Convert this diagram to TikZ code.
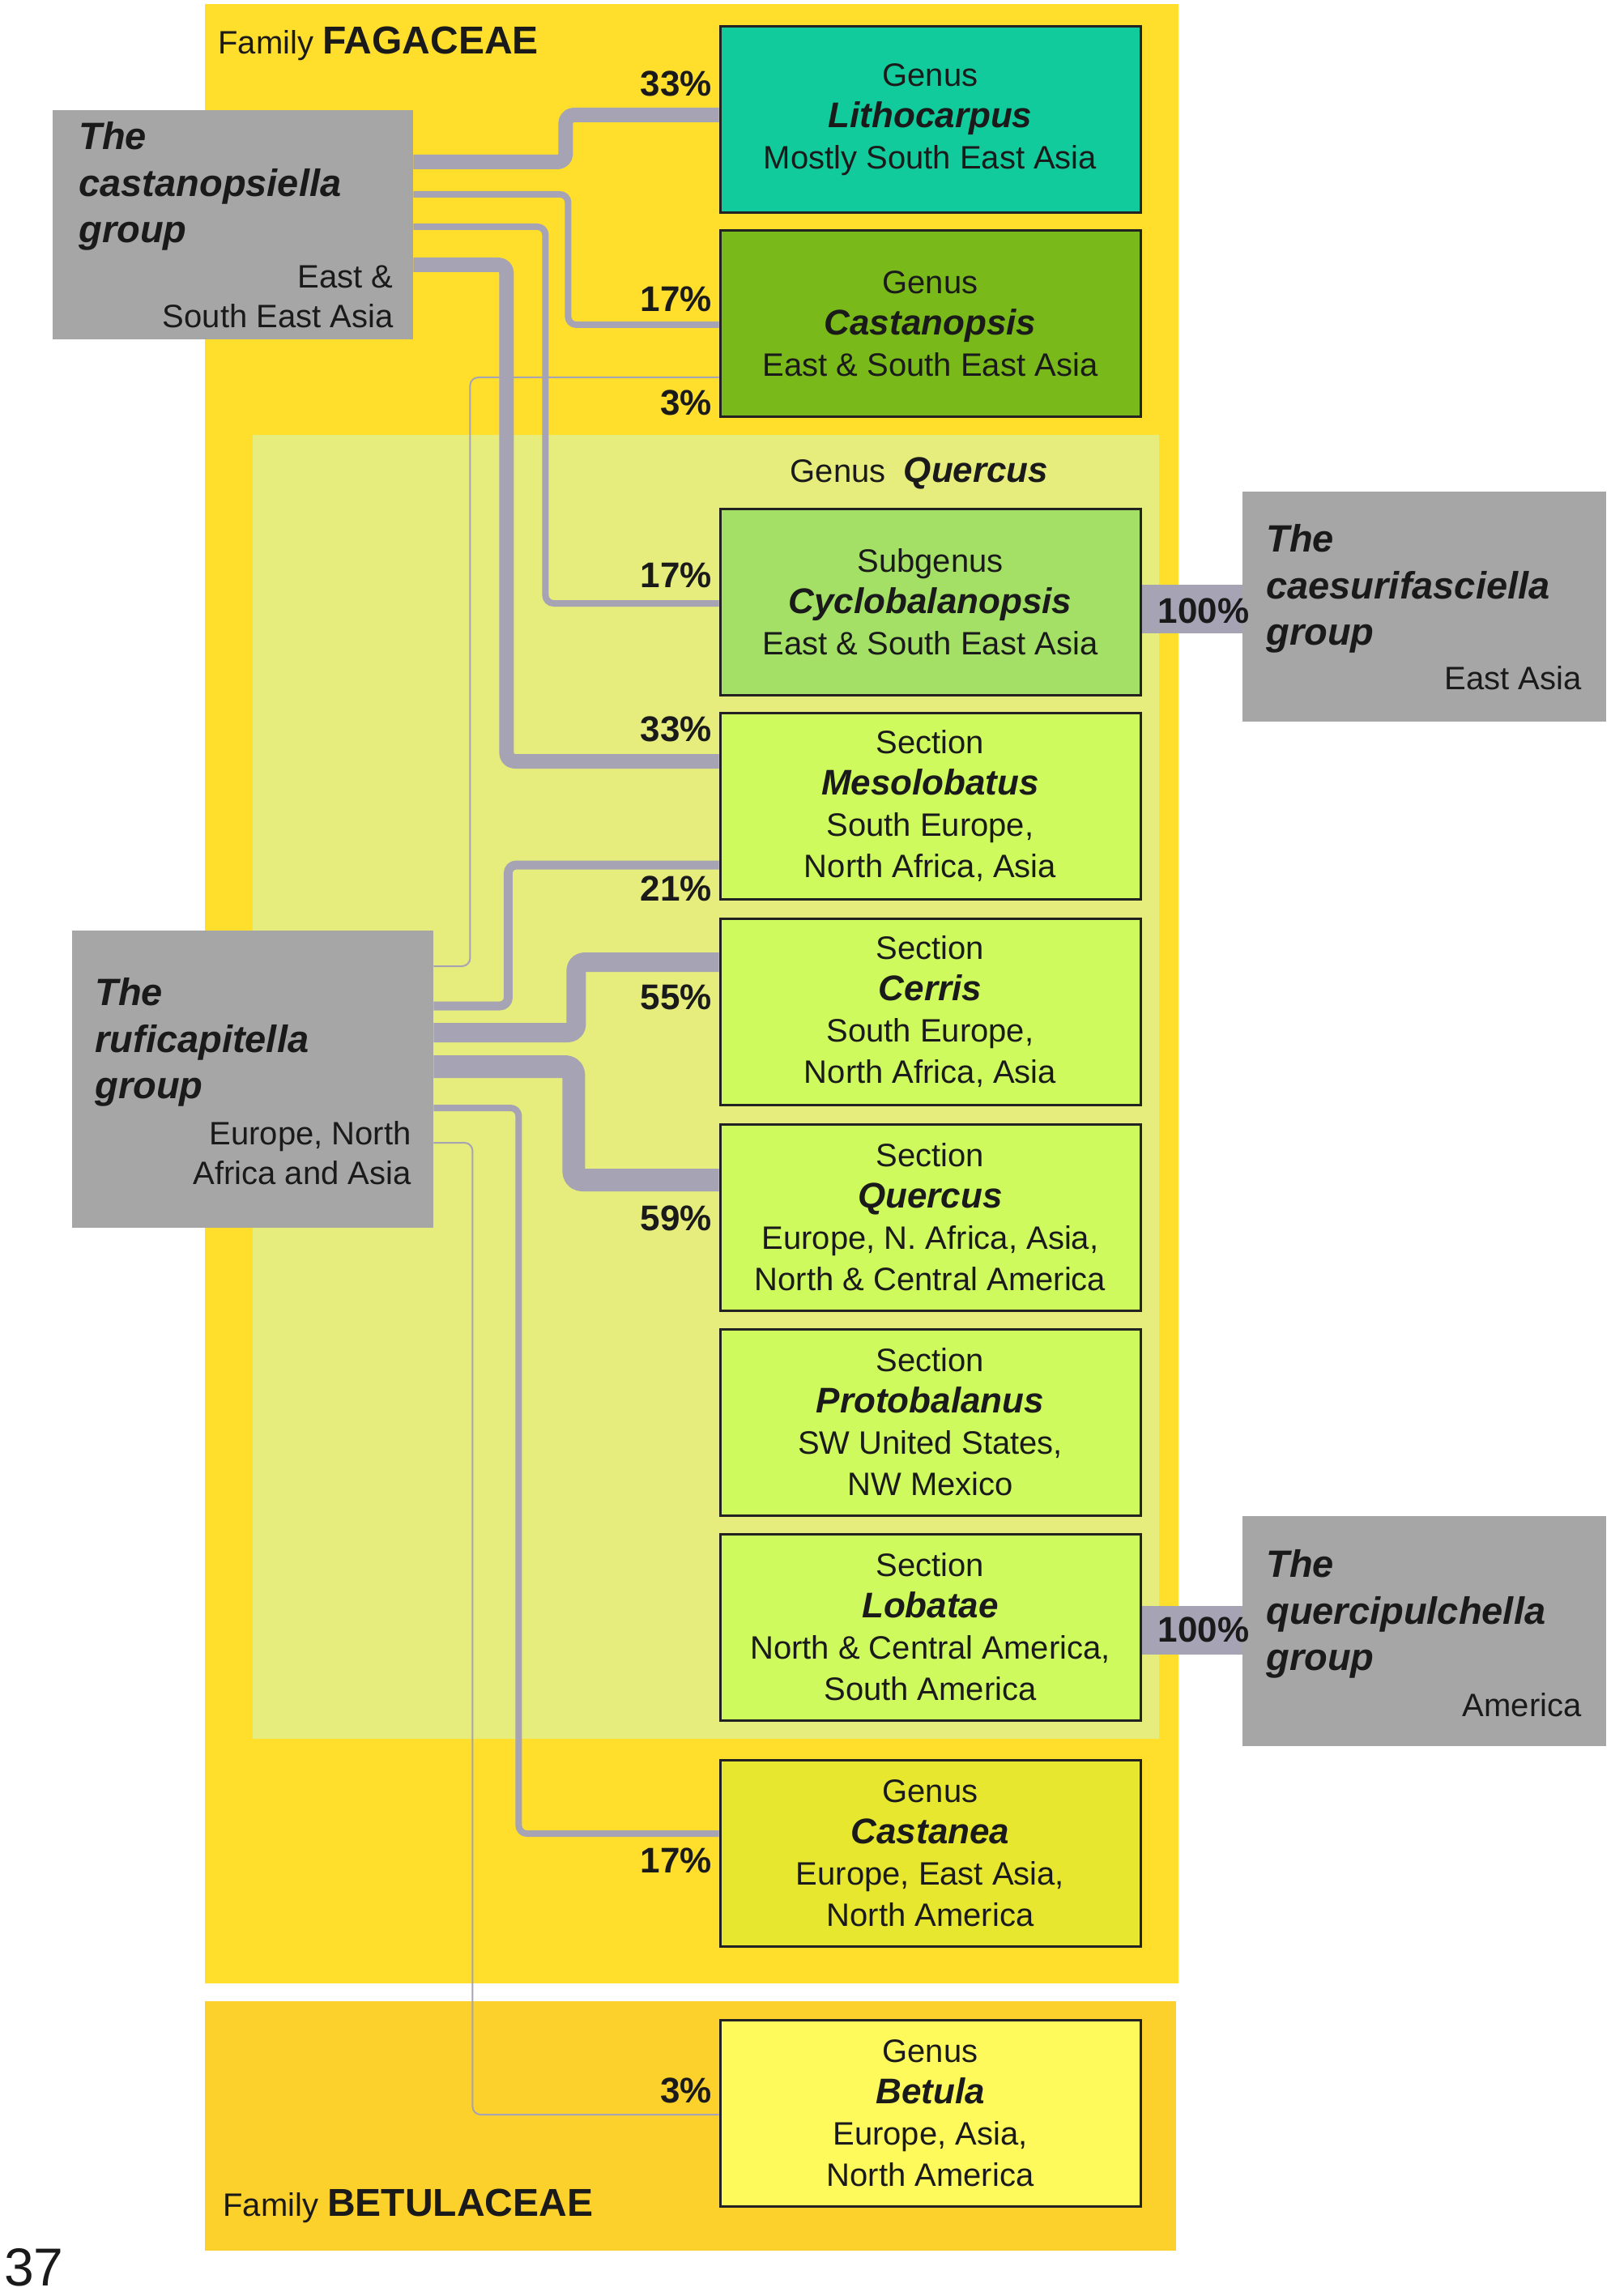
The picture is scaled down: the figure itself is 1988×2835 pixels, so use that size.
\documentclass[tikz,border=0pt]{standalone}
\usepackage{fontspec}
\setmainfont{Liberation Sans}
\usetikzlibrary{calc}
\definecolor{fagbg}{HTML}{FFDF2B}
\definecolor{betbg}{HTML}{FDD12B}
\definecolor{querbg}{HTML}{E6ED7C}
\definecolor{litc}{HTML}{12CB9C}
\definecolor{castpc}{HTML}{7AB91A}
\definecolor{cycloc}{HTML}{A3E065}
\definecolor{sectc}{HTML}{CEFA5E}
\definecolor{castac}{HTML}{E6E72E}
\definecolor{betc}{HTML}{FFFA5C}
\definecolor{grayc}{HTML}{A6A6A6}
\definecolor{linec}{HTML}{A5A3B4}
\definecolor{textc}{HTML}{1A1A1A}
\definecolor{boxline}{HTML}{222222}
\newcommand\nm[1]{{\fontsize{22}{25.5}\selectfont\bfseries\itshape #1}}
\tikzset{
  conn/.style={draw=linec, rounded corners=5pt, line join=round},
  wA/.style={conn, line width=1pt},
  wB/.style={conn, line width=4pt},
  wC/.style={conn, line width=5.5pt},
  wD/.style={conn, line width=9pt},
  wE/.style={conn, line width=12pt},
  wF/.style={conn, line width=14pt},
  wG/.style={draw=linec, line width=30pt},
  taxbox/.style={draw=boxline, line width=1.5pt, minimum width=259.5pt, minimum height=115pt, inner sep=0pt, align=center, font=\fontsize{20}{25.5}\selectfont, text=textc},
  grp/.style={fill=grayc, inner sep=0pt},
  gtitle/.style={align=left, inner sep=0pt, font=\fontsize{23.5}{28.75}\selectfont\bfseries\itshape, text=textc},
  gregion/.style={align=right, inner sep=0pt, font=\fontsize{20}{24.5}\selectfont, text=textc},
  pct/.style={font=\fontsize{22}{26}\selectfont\bfseries, inner sep=0pt, text=textc},
}
\begin{document}
\begin{tikzpicture}[x=0.5pt,y=-0.5pt]
\useasboundingbox (0,0) rectangle (1988,2835);
% backgrounds
\fill[fagbg] (253,5) rectangle (1455,2449);
\fill[betbg] (253,2471) rectangle (1452,2779);
\fill[querbg] (312,537) rectangle (1431,2147);

% gray groups
\node[grp, minimum width=222.5pt, minimum height=141.5pt] (castgrp) at (287.5,277.5) {};
\node[grp, minimum width=223pt, minimum height=183.5pt] (rufgrp) at (312,1332.5) {};
\node[grp, minimum width=224.5pt, minimum height=142pt] (caesgrp) at (1758.5,749) {};
\node[grp, minimum width=224.5pt, minimum height=142pt] (quergrp) at (1758.5,2014) {};

\path (1148.5,147.5) coordinate (lithoC) (1148.5,399.5) coordinate (castpC)
      (1148.5,743.5) coordinate (cycloC) (1148.5,995.5) coordinate (mesoC)
      (1148.5,1249) coordinate (cerrisC) (1148.5,1503) coordinate (qsectC)
      (1148.5,1756) coordinate (protoC) (1148.5,2009) coordinate (lobatC)
      (1148.5,2288) coordinate (castaC) (1148.5,2609.5) coordinate (betC);

% placeholders giving the box anchors (boxes are drawn later, on top)
\node[taxbox, draw=none] (litho) at (lithoC) {};
\node[taxbox, draw=none] (castp) at (castpC) {};
\node[taxbox, draw=none] (cyclo) at (cycloC) {};
\node[taxbox, draw=none] (meso) at (mesoC) {};
\node[taxbox, draw=none] (cerris) at (cerrisC) {};
\node[taxbox, draw=none] (qsect) at (qsectC) {};
\node[taxbox, draw=none] (proto) at (protoC) {};
\node[taxbox, draw=none] (lobat) at (lobatC) {};
\node[taxbox, draw=none] (castanea) at (castaC) {};
\node[taxbox, draw=none] (betula) at (betC) {};

% connectors from the castanopsiella group
\draw[wD] ($(castgrp.east)+(0,-77.5)$) -- ++(188,0) |- ($(litho.west)+(0,-5.5)$);
\draw[wB] ($(castgrp.east)+(0,-37.5)$) -- ++(191,0) |- ($(castp.west)+(0,1.5)$);
\draw[wB] ($(castgrp.east)+(0,2.5)$) -- ++(163,0) |- ($(cyclo.west)+(0,1.5)$);
\draw[wD] ($(castgrp.east)+(0,49.5)$) -- ++(115,0) |- ($(meso.west)+(0,-55.5)$);
% connectors from the ruficapitella group
\draw[wA] ($(rufgrp.east)+(0,-139.5)$) -- ++(45,0) |- ($(castp.west)+(0,66.5)$);
\draw[wC] ($(rufgrp.east)+(0,-90.5)$) -- ++(92,0) |- ($(meso.west)+(0,72.5)$);
\draw[wE] ($(rufgrp.east)+(0,-57.5)$) -- ++(176,0) |- ($(cerris.west)+(0,-61)$);
\draw[wF] ($(rufgrp.east)+(0,-15.5)$) -- ++(173,0) |- ($(qsect.west)+(0,-46)$);
\draw[wB] ($(rufgrp.east)+(0,35.5)$) -- ++(105,0) |- ($(castanea.west)+(0,-24)$);
\draw[wA] ($(rufgrp.east)+(0,78.5)$) -- ++(48,0) |- ($(betula.west)+(0,1.5)$);
% 100% bands
\draw[wG] ($(cyclo.east)+(0,8.5)$) -- ($(caesgrp.west)+(0,3)$);
\draw[wG] ($(lobat.east)+(0,4)$) -- ($(quergrp.west)+(0,-1)$);

% taxon boxes
\node[taxbox, fill=litc] at (lithoC) {Genus\\\nm{Lithocarpus}\\Mostly South East Asia};
\node[taxbox, fill=castpc] at (castpC) {Genus\\\nm{Castanopsis}\\East \& South East Asia};
\node[taxbox, fill=cycloc] at (cycloC) {Subgenus\\\nm{Cyclobalanopsis}\\East \& South East Asia};
\node[taxbox, fill=sectc] at (mesoC) {Section\\\nm{Mesolobatus}\\South Europe,\\North Africa, Asia};
\node[taxbox, fill=sectc] at (cerrisC) {Section\\\nm{Cerris}\\South Europe,\\North Africa, Asia};
\node[taxbox, fill=sectc] at (qsectC) {Section\\\nm{Quercus}\\Europe, N. Africa, Asia,\\North \& Central America};
\node[taxbox, fill=sectc] at (protoC) {Section\\\nm{Protobalanus}\\SW United States,\\NW Mexico};
\node[taxbox, fill=sectc] at (lobatC) {Section\\\nm{Lobatae}\\North \& Central America,\\South America};
\node[taxbox, fill=castac] at (castaC) {Genus\\\nm{Castanea}\\Europe, East Asia,\\North America};
\node[taxbox, fill=betc] at (betC) {Genus\\\nm{Betula}\\Europe, Asia,\\North America};

% group texts
\node[gtitle, anchor=west] (castT) at (97,230) {The\\castanopsiella\\group};
\node[gregion, anchor=east] (castR) at (486,366) {East \&\\South East Asia};
\node[gtitle, anchor=west] (rufT) at (117,1287) {The\\ruficapitella\\group};
\node[gregion, anchor=east] (rufR) at (508,1424) {Europe, North\\Africa and Asia};
\node[gtitle, anchor=west] (caesT) at (1563,727) {The\\caesurifasciella\\group};
\node[gregion, anchor=east] (caesR) at (1953,837) {East Asia};
\node[gtitle, anchor=west] (querT) at (1563,1993) {The\\quercipulchella\\group};
\node[gregion, anchor=east] (querR) at (1953,2105) {America};

% family / genus labels
\node[anchor=west, inner sep=0pt, text=textc] (famF) at (269,54) {\fontsize{20}{24}\selectfont Family \fontsize{24}{28}\selectfont\bfseries FAGACEAE};
\node[anchor=west, inner sep=0pt, text=textc] (famB) at (275,2724) {\fontsize{20}{24}\selectfont Family \fontsize{24}{28}\selectfont\bfseries BETULACEAE};
\node[inner sep=0pt, text=textc] (genQ) at (1135,584) {\fontsize{20}{24}\selectfont Genus\ \ \nm{Quercus}};

% percentages
\node[pct, anchor=east] (p1) at (879,103) {33\%};
\node[pct, anchor=east] (p2) at (879,369) {17\%};
\node[pct, anchor=east] (p3) at (879,497) {3\%};
\node[pct, anchor=east] (p4) at (879,710) {17\%};
\node[pct, anchor=east] (p5) at (879,900) {33\%};
\node[pct, anchor=east] (p6) at (879,1097) {21\%};
\node[pct, anchor=east] (p7) at (879,1231) {55\%};
\node[pct, anchor=east] (p8) at (879,1504) {59\%};
\node[pct, anchor=east] (p9) at (879,2297) {17\%};
\node[pct, anchor=east] (p10) at (879,2581) {3\%};
\node[pct] (p11) at (1486,754) {100\%};
\node[pct] (p12) at (1486,2012) {100\%};

\node[inner sep=0pt, text=textc, font=\fontsize{33}{36}\selectfont] (pg) at (42,2800) {37};
\end{tikzpicture}
\end{document}
